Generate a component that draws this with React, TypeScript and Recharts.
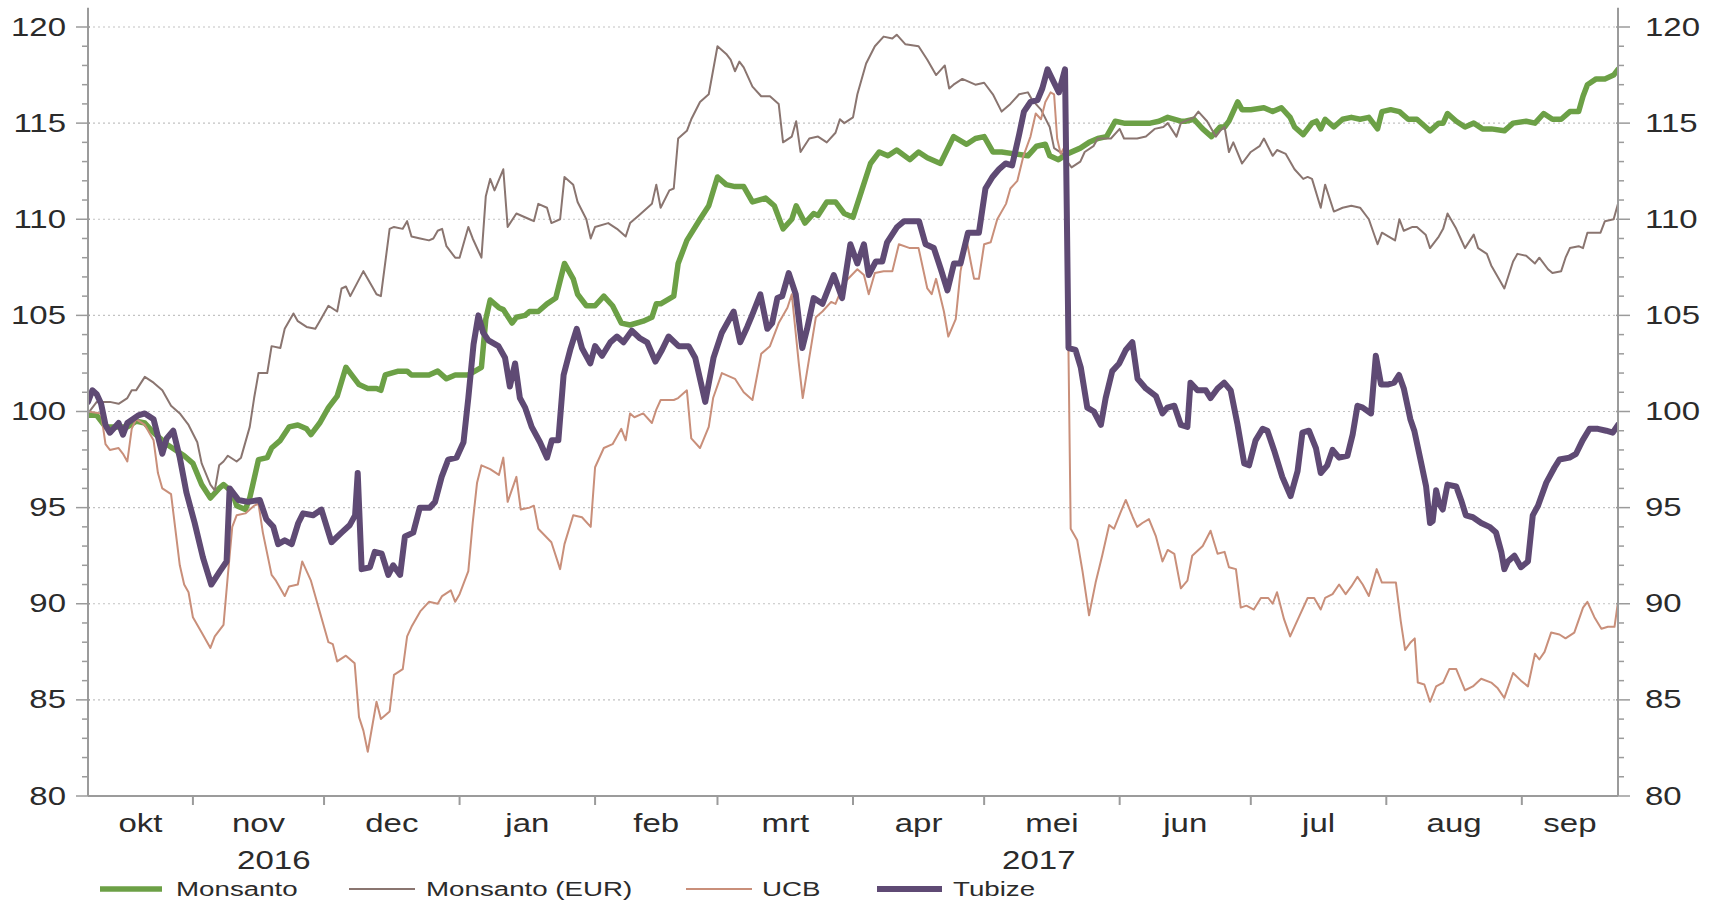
import React from "react";
import { LineChart, Line, XAxis, YAxis, ReferenceLine, Legend } from "recharts";

// [days since 1 Oct 2016, index value]
type Point = [number, number];

const monsanto: Point[] = [
  [7, 99.8], [9, 99.8], [11, 99.2], [14, 99.2], [16, 99.2], [18, 99.5], [20, 99.4], [22, 98.9], [25, 98.3],
  [27, 98.0], [29, 97.7], [31, 97.3], [33, 96.2], [35, 95.5], [37, 96.0], [38, 96.2], [40, 95.8], [41, 95.1],
  [43, 94.9], [44, 95.5], [46, 97.5], [48, 97.6], [49, 98.1], [51, 98.5], [53, 99.2], [55, 99.3], [57, 99.1],
  [58, 98.8], [60, 99.4], [62, 100.2], [64, 100.8], [66, 102.3], [67, 102.0], [69, 101.4], [71, 101.2],
  [73, 101.2], [74, 101.1], [75, 101.9], [78, 102.1], [80, 102.1], [81, 101.9], [83, 101.9], [85, 101.9],
  [87, 102.1], [89, 101.7], [91, 101.9], [94, 101.9], [97, 102.3], [98, 104.8], [99, 105.8], [101, 105.4],
  [102, 105.3], [104, 104.6], [105, 104.9], [107, 105.0], [108, 105.2], [110, 105.2], [112, 105.6],
  [114, 105.9], [116, 107.7], [118, 106.9], [119, 106.1], [121, 105.5], [123, 105.5], [125, 106.0],
  [127, 105.5], [129, 104.6], [131, 104.5], [134, 104.7], [136, 104.9], [137, 105.6], [138, 105.6],
  [141, 106.0], [142, 107.7], [144, 108.9], [147, 110.0], [149, 110.7], [151, 112.2], [153, 111.8],
  [155, 111.7], [157, 111.7], [159, 110.9], [162, 111.1], [164, 110.7], [166, 109.5], [168, 110.0],
  [169, 110.7], [171, 109.8], [173, 110.3], [174, 110.2], [176, 110.9], [178, 110.9], [180, 110.3],
  [182, 110.1], [184, 111.5], [186, 112.9], [188, 113.5], [190, 113.3], [192, 113.6], [195, 113.1],
  [197, 113.5], [199, 113.2], [202, 112.9], [205, 114.3], [208, 113.9], [210, 114.2], [212, 114.3],
  [214, 113.5], [216, 113.5], [219, 113.4], [222, 113.3], [224, 113.8], [226, 113.9], [227, 113.3],
  [229, 113.1], [231, 113.4], [234, 113.7], [236, 114.0], [238, 114.2], [240, 114.3], [242, 115.1],
  [244, 115.0], [247, 115.0], [250, 115.0], [252, 115.1], [254, 115.3], [257, 115.1], [258, 115.1],
  [260, 115.2], [262, 114.7], [264, 114.3], [266, 114.8], [267, 114.8], [268, 115.1], [270, 116.1],
  [271, 115.7], [273, 115.7], [276, 115.8], [278, 115.6], [280, 115.8], [282, 115.3], [283, 114.8],
  [285, 114.4], [287, 115.0], [288, 115.1], [289, 114.7], [290, 115.2], [292, 114.8], [294, 115.2],
  [296, 115.3], [298, 115.2], [300, 115.3], [302, 114.7], [303, 115.6], [305, 115.7], [307, 115.6],
  [309, 115.2], [311, 115.2], [313, 114.8], [314, 114.6], [316, 115.0], [317, 115.0], [318, 115.5],
  [320, 115.1], [322, 114.8], [324, 115.0], [326, 114.7], [328, 114.7], [331, 114.6], [333, 115.0],
  [336, 115.1], [338, 115.0], [340, 115.5], [342, 115.2], [344, 115.2], [346, 115.6], [348, 115.6],
  [349, 116.4], [350, 117.0], [352, 117.3], [354, 117.3], [356, 117.5], [357, 117.8],
];

const monsantoEur: Point[] = [
  [7, 99.9], [9, 100.5], [12, 100.5], [14, 100.4], [16, 100.7], [17, 101.1], [18, 101.1], [20, 101.8],
  [22, 101.5], [24, 101.1], [26, 100.3], [28, 99.9], [30, 99.3], [32, 98.4], [33, 97.3], [35, 96.2],
  [36, 95.9], [37, 97.2], [38, 97.4], [39, 97.7], [41, 97.4], [42, 97.6], [44, 99.2], [45, 100.7],
  [46, 102.0], [48, 102.0], [49, 103.4], [51, 103.3], [52, 104.3], [54, 105.1], [55, 104.7], [57, 104.4],
  [59, 104.3], [60, 104.7], [62, 105.5], [64, 105.2], [65, 106.4], [66, 106.5], [67, 106.0], [70, 107.3],
  [72, 106.5], [73, 106.1], [74, 106.0], [76, 109.5], [77, 109.6], [79, 109.5], [80, 109.9], [81, 109.1],
  [83, 109.0], [85, 108.9], [86, 109.0], [87, 109.4], [88, 109.5], [89, 108.6], [91, 108.0], [92, 108.0],
  [94, 109.6], [95, 109.0], [97, 108.0], [98, 111.2], [99, 112.1], [100, 111.5], [102, 112.6],
  [103, 109.6], [105, 110.3], [108, 110.0], [109, 109.9], [110, 110.8], [112, 110.6], [113, 109.8],
  [115, 110.0], [116, 112.2], [118, 111.8], [119, 110.9], [121, 110.0], [122, 109.0], [123, 109.6],
  [126, 109.8], [128, 109.5], [130, 109.1], [131, 109.8], [133, 110.2], [136, 110.8], [137, 111.8],
  [138, 110.6], [140, 111.5], [141, 111.6], [142, 114.2], [144, 114.6], [145, 115.2], [147, 116.1],
  [149, 116.5], [151, 119.0], [153, 118.6], [154, 118.3], [155, 117.7], [156, 118.2], [157, 117.9],
  [159, 116.9], [161, 116.4], [163, 116.4], [165, 116.0], [166, 114.0], [168, 114.3], [169, 115.1],
  [170, 113.5], [172, 114.2], [174, 114.3], [176, 114.0], [178, 114.5], [179, 115.2], [180, 115.0],
  [182, 115.3], [183, 116.5], [185, 118.1], [187, 119.0], [189, 119.5], [191, 119.4], [192, 119.6],
  [194, 119.1], [197, 119.0], [199, 118.3], [201, 117.5], [203, 118.0], [204, 116.8], [205, 117.0],
  [207, 117.3], [210, 117.0], [212, 117.1], [214, 116.5], [216, 115.6], [218, 116.0], [220, 116.5],
  [222, 116.6], [223, 116.2], [225, 115.7], [227, 114.8], [228, 113.7], [230, 113.4], [231, 113.0],
  [232, 112.7], [234, 113.0], [235, 113.5], [237, 113.8], [238, 114.2], [241, 114.2], [243, 114.7],
  [244, 114.2], [247, 114.2], [249, 114.3], [251, 114.7], [253, 114.8], [254, 115.0], [256, 114.3],
  [257, 115.0], [258, 115.1], [260, 115.3], [261, 115.6], [263, 115.1], [265, 114.3], [266, 114.6],
  [267, 114.8], [268, 113.5], [269, 114.0], [271, 112.9], [273, 113.5], [275, 113.8], [276, 114.2],
  [278, 113.3], [279, 113.6], [281, 113.4], [283, 112.6], [285, 112.1], [286, 112.2], [287, 112.1],
  [289, 110.6], [290, 111.8], [292, 110.4], [294, 110.6], [296, 110.7], [298, 110.6], [300, 110.0],
  [302, 108.7], [303, 109.3], [306, 108.9], [307, 110.0], [308, 109.4], [310, 109.6], [311, 109.6],
  [313, 109.2], [314, 108.5], [316, 109.1], [317, 109.5], [318, 110.3], [320, 109.5], [321, 109.0],
  [322, 108.5], [324, 109.2], [325, 108.5], [327, 108.2], [328, 107.6], [330, 106.8], [331, 106.4],
  [333, 107.8], [334, 108.2], [336, 108.1], [338, 107.7], [339, 108.0], [341, 107.4], [342, 107.2],
  [344, 107.3], [345, 108.0], [346, 108.5], [348, 108.6], [349, 108.5], [350, 109.3], [352, 109.3],
  [353, 109.3], [354, 109.9], [356, 110.0], [357, 110.8],
];

const ucb: Point[] = [
  [7, 100.0], [10, 99.9], [11, 98.3], [12, 98.0], [14, 98.1], [15, 97.8], [16, 97.4], [17, 99.1],
  [18, 99.6], [20, 99.3], [22, 98.5], [23, 96.8], [24, 96.0], [26, 95.7], [28, 92.0], [29, 91.0],
  [30, 90.6], [31, 89.3], [33, 88.5], [35, 87.7], [36, 88.3], [38, 88.9], [39, 91.5], [40, 94.0],
  [41, 94.6], [43, 94.7], [45, 95.1], [46, 95.2], [47, 93.7], [49, 91.5], [50, 91.2], [52, 90.4],
  [53, 90.9], [55, 91.0], [56, 92.2], [58, 91.2], [60, 89.6], [62, 88.0], [63, 87.9], [64, 87.0],
  [66, 87.3], [68, 86.9], [69, 84.1], [70, 83.4], [71, 82.3], [73, 84.9], [74, 84.0], [76, 84.4],
  [77, 86.3], [79, 86.6], [80, 88.3], [81, 88.8], [83, 89.6], [85, 90.1], [87, 90.0], [88, 90.4],
  [90, 90.7], [91, 90.1], [92, 90.5], [94, 91.7], [95, 94.2], [96, 96.3], [97, 97.2], [99, 97.0],
  [101, 96.7], [102, 97.6], [103, 95.3], [105, 96.6], [106, 94.9], [108, 95.0], [109, 95.1], [110, 93.9],
  [113, 93.2], [115, 91.8], [116, 93.1], [118, 94.6], [120, 94.5], [122, 94.0], [123, 97.1], [125, 98.1],
  [127, 98.3], [129, 99.1], [130, 98.5], [131, 99.9], [132, 99.7], [134, 99.9], [136, 99.4], [137, 100.1],
  [138, 100.6], [141, 100.6], [142, 100.7], [144, 101.1], [145, 98.6], [147, 98.1], [149, 99.2],
  [150, 100.7], [152, 102.0], [155, 101.7], [157, 101.0], [159, 100.6], [161, 103.0], [163, 103.4],
  [165, 104.6], [167, 105.4], [168, 106.1], [169.6, 102.5], [170.5, 100.7], [172, 102.8], [173.5, 104.9],
  [175, 105.2], [177, 105.7], [178, 105.6], [180, 106.7], [183, 107.4], [184.5, 107.1], [185.6, 106.1],
  [187, 107.2], [189, 107.3], [191, 107.3], [192.5, 108.7], [195, 108.5], [197, 108.5], [199, 106.4],
  [200, 106.1], [201, 106.9], [202.8, 105.2], [203.8, 103.9], [205.5, 104.8], [206.6, 107.3],
  [208, 108.9], [209, 107.7], [209.7, 106.9], [210.8, 106.9], [212, 108.7], [213.5, 108.8], [215, 110.0],
  [217, 110.8], [218, 111.6], [219.6, 112.0], [221, 113.3], [222.6, 114.3], [223.8, 115.5], [225, 115.2],
  [226, 116.1], [227.2, 116.6], [228, 116.5], [228.7, 114.2], [229.5, 113.4], [230.7, 113.9],
  [231.8, 93.9], [233.3, 93.3], [234.5, 91.7], [236, 89.4], [237.5, 91.1], [239, 92.5], [240.6, 94.1],
  [241.7, 93.9], [243.3, 94.8], [244.4, 95.4], [246, 94.5], [247, 94.0], [248.2, 94.2], [249.7, 94.4],
  [251.3, 93.5], [252.8, 92.2], [254, 92.8], [255.5, 92.6], [257, 90.8], [258.5, 91.2], [259.6, 92.5],
  [262, 93.0], [263.8, 93.8], [265.4, 92.6], [267, 92.7], [268, 91.9], [269.6, 91.8], [270.7, 89.8],
  [272, 89.9], [273.7, 89.7], [275.3, 90.3], [277, 90.3], [278, 90.0], [279, 90.6], [280.6, 89.2],
  [282, 88.3], [284, 89.3], [286, 90.3], [287.5, 90.3], [289, 89.7], [290, 90.3], [291.7, 90.5],
  [293.2, 91.0], [294.7, 90.5], [296, 90.9], [297.4, 91.4], [298.6, 91.0], [300, 90.4], [301.8, 91.8],
  [303, 91.1], [306.2, 91.1], [307.3, 89.1], [308.3, 87.6], [309.6, 88.0], [310.5, 88.2], [311.2, 85.9],
  [312.7, 85.8], [314, 84.9], [315.4, 85.7], [317, 85.9], [318.4, 86.6], [320, 86.6], [322, 85.5],
  [323.8, 85.7], [325.7, 86.1], [328, 85.9], [329.5, 85.6], [331, 85.1], [333, 86.4], [334.8, 86.0],
  [336.4, 85.7], [338, 87.4], [339, 87.1], [340.2, 87.5], [341.7, 88.5], [343.6, 88.4], [345, 88.2],
  [347, 88.5], [349, 89.8], [350, 90.1], [351.6, 89.3], [353.2, 88.7], [354.7, 88.8], [356.2, 88.8],
  [357, 90.1],
];

const tubize: Point[] = [
  [7, 100.5], [8, 101.1], [9, 100.9], [10, 100.4], [11, 99.3], [12, 98.9], [14, 99.4], [15, 98.8],
  [16, 99.4], [18.5, 99.8], [20, 99.9], [22, 99.6], [24, 97.8], [25, 98.6], [26.5, 99.0], [28, 97.6],
  [29.5, 95.8], [31.4, 94.2], [33.3, 92.4], [35.2, 91.0], [37.2, 91.7], [38.7, 92.2], [39.4, 96.0],
  [41.4, 95.4], [43.6, 95.3], [46.3, 95.4], [47.8, 94.4], [49.4, 94.0], [50.5, 93.1], [52, 93.3],
  [53.6, 93.1], [55.1, 94.2], [56.2, 94.7], [58.5, 94.6], [60.4, 94.9], [62.7, 93.2], [65, 93.7],
  [66.9, 94.1], [68.1, 94.6], [68.7, 96.8], [69.6, 91.8], [71.5, 91.9], [72.6, 92.7], [74.2, 92.6],
  [75.7, 91.5], [76.8, 92.0], [78.4, 91.5], [79.5, 93.5], [81.4, 93.7], [82.9, 95.0], [85.2, 95.0],
  [86.4, 95.3], [87.9, 96.6], [89.4, 97.5], [91.3, 97.6], [92.9, 98.4], [94, 100.7], [95.2, 103.5],
  [96.3, 105.0], [97.4, 104.1], [98.6, 103.7], [100.9, 103.4], [102.4, 102.8], [103.5, 101.3],
  [104.7, 102.5], [105.8, 100.7], [107, 100.2], [108.5, 99.2], [110.4, 98.4], [112, 97.6], [113.1, 98.5],
  [114.6, 98.5], [115.8, 101.9], [117.3, 103.2], [118.8, 104.3], [120, 103.3], [121.9, 102.5],
  [123, 103.4], [124.6, 102.9], [126.5, 103.6], [128, 103.9], [129.5, 103.6], [131.4, 104.2],
  [133.3, 103.8], [134.9, 103.6], [136.8, 102.6], [138.3, 103.2], [139.8, 103.9], [142.1, 103.4],
  [144.4, 103.4], [145.9, 102.8], [148.2, 100.5], [150.1, 102.8], [152, 104.1], [154.7, 105.2],
  [156.2, 103.6], [157.8, 104.4], [158.9, 105.0], [160.8, 106.1], [162.4, 104.3], [163.5, 104.6],
  [164.7, 105.9], [165.8, 106.0], [167.3, 107.2], [168.9, 106.1], [170.4, 103.3], [171.5, 104.3],
  [173, 105.9], [175, 105.6], [177.6, 107.1], [179.5, 105.9], [181.4, 108.7], [183, 107.7],
  [184.5, 108.7], [185.6, 107.1], [187.2, 107.8], [188.7, 107.8], [189.8, 108.8], [192.1, 109.6],
  [193.7, 109.9], [197.1, 109.9], [198.6, 108.7], [200.5, 108.5], [202.1, 107.4], [203.6, 106.3],
  [205.1, 107.7], [206.6, 107.7], [208.3, 109.3], [210.8, 109.3], [212.3, 111.6], [213.9, 112.2],
  [215.4, 112.6], [216.9, 112.9], [218.4, 112.8], [220, 114.4], [221.1, 115.6], [222.6, 116.1],
  [224.2, 116.2], [225.3, 116.8], [226.5, 117.8], [228, 117.1], [229.1, 116.6], [230.5, 117.8],
  [231.3, 103.3], [232.9, 103.2], [234.1, 102.3], [235.6, 100.2], [237.1, 100.0], [238.7, 99.3],
  [239.8, 100.7], [241.3, 102.1], [242.9, 102.5], [244.4, 103.2], [245.9, 103.6], [247.1, 101.7],
  [249, 101.2], [251.3, 100.8], [252.8, 99.9], [253.9, 100.2], [255.5, 100.3], [257, 99.3],
  [258.5, 99.2], [259.2, 101.5], [260.8, 101.1], [262.7, 101.1], [263.8, 100.7], [265.4, 101.2],
  [266.9, 101.5], [268.4, 101.1], [269.9, 99.4], [271.5, 97.3], [272.6, 97.2], [274.1, 98.5],
  [275.7, 99.1], [276.8, 99.0], [278.3, 98.0], [280.2, 96.6], [282.1, 95.6], [283.7, 96.9],
  [284.8, 98.9], [286.3, 99.0], [287.9, 98.1], [289, 96.8], [290.5, 97.2], [291.7, 98.0], [293.2, 97.6],
  [295.1, 97.7], [296.3, 98.8], [297.4, 100.3], [298.6, 100.2], [300.5, 99.9], [301.6, 102.9],
  [302.8, 101.4], [304.3, 101.4], [305.8, 101.5], [306.9, 101.9], [308, 101.2], [309.5, 99.6],
  [310.4, 99.0], [311.9, 97.4], [313.1, 96.1], [314, 94.2], [314.6, 94.3], [315.4, 95.9], [316.1, 95.2],
  [316.9, 94.9], [318, 96.2], [320, 96.1], [321.1, 95.4], [322.2, 94.6], [323.8, 94.5], [325.7, 94.2],
  [327.6, 94.0], [329.1, 93.7], [330.3, 92.7], [331, 91.8], [331.8, 92.2], [333.3, 92.5], [334.8, 91.9],
  [336.4, 92.2], [337.5, 94.6], [338.7, 95.1], [340.6, 96.3], [342.5, 97.1], [343.6, 97.5],
  [345.9, 97.6], [347.4, 97.8], [348.9, 98.5], [350.5, 99.1], [352.4, 99.1], [354.3, 99.0],
  [355.8, 98.9], [357, 99.3],
];

const monthLabels = ["okt", "nov", "dec", "jan", "feb", "mrt", "apr", "mei", "jun", "jul", "aug", "sep"];
const yearLabels = ["2016", "2017"];
const firstDay = 7;
const lastDay = 357;
const yMajor = [80, 85, 90, 95, 100, 105, 110, 115, 120];

const FONT = '"Liberation Sans", Arial, sans-serif';
const TEXT = "#2b2b2b";
const AXIS = "#9b9b9b";
const GRID = "#c2c2c2";
const STRETCH = 1.32;

const series = [
  { name: "Monsanto", points: monsanto, color: "#6ca046", width: 5.5, axis: "left" },
  { name: "Monsanto (EUR)", points: monsantoEur, color: "#8a7570", width: 2, axis: "left" },
  { name: "UCB", points: ucb, color: "#c98f7a", width: 2, axis: "right" },
  { name: "Tubize", points: tubize, color: "#5f4a74", width: 6, axis: "right" },
];

// month boundaries in days since 1 Oct 2016
const DAY_MS = 86400000;
const origin = Date.UTC(2016, 9, 1);
const monthStarts = monthLabels.map((_, i) => (Date.UTC(2016, 9 + i, 1) - origin) / DAY_MS);
const periodEnd = (Date.UTC(2017, 9, 1) - origin) / DAY_MS;

type TickInfo = { kind: "start" | "month" | "year"; label?: string };
const xTickInfo = new Map<number, TickInfo>();
monthStarts.forEach((s, i) => {
  if (s > firstDay && s < lastDay) xTickInfo.set(s, { kind: "start" });
  const a = Math.max(s, firstDay);
  const b = Math.min(i + 1 < monthStarts.length ? monthStarts[i + 1] : periodEnd, lastDay);
  xTickInfo.set((a + b) / 2, { kind: "month", label: monthLabels[i] });
});
const yearStart = monthStarts[3];
xTickInfo.set((firstDay + yearStart) / 2, { kind: "year", label: yearLabels[0] });
xTickInfo.set((yearStart + lastDay) / 2, { kind: "year", label: yearLabels[1] });
const xTicks = [...xTickInfo.keys()].sort((a, b) => a - b);

const yTicks: number[] = [];
for (let v = 80; v <= 120; v++) yTicks.push(v);

function StretchText({ x, y, anchor, size, children }: any) {
  return (
    <text
      transform={`translate(${x},${y}) scale(${STRETCH},1)`}
      textAnchor={anchor}
      dominantBaseline="central"
      fontSize={size}
      fontFamily={FONT}
      fill={TEXT}
    >
      {children}
    </text>
  );
}

function XTick({ x, y, payload }: any) {
  const info = xTickInfo.get(payload.value);
  if (!info) return <g />;
  if (info.kind === "start") {
    return <line x1={x} x2={x} y1={y} y2={y + 9} stroke={AXIS} strokeWidth={2} />;
  }
  const cy = info.kind === "month" ? y + 27 : y + 64;
  return (
    <StretchText x={x} y={cy} anchor="middle" size={25}>
      {info.label}
    </StretchText>
  );
}

function YTick({ x, y, payload, side }: any) {
  const v = payload.value;
  const major = v % 5 === 0;
  const dir = side === "left" ? -1 : 1;
  return (
    <g>
      <line
        x1={x - dir * (major ? 2 : 0)}
        x2={x + dir * (major ? 12 : 6)}
        y1={y}
        y2={y}
        stroke={AXIS}
        strokeWidth={1.5}
      />
      {major && (
        <StretchText x={x + dir * (side === "left" ? 22 : 27)} y={y} anchor={side === "left" ? "end" : "start"} size={25}>
          {v}
        </StretchText>
      )}
    </g>
  );
}

const legendLayout = [
  { x1: 100, x2: 162, tx: 176 },
  { x1: 349, x2: 415, tx: 426 },
  { x1: 686, x2: 752, tx: 762 },
  { x1: 877, x2: 942, tx: 953 },
];

function LegendBox() {
  return (
    <svg width={1717} height={34}>
      {series.map((s, i) => (
        <g key={s.name}>
          <line x1={legendLayout[i].x1} x2={legendLayout[i].x2} y1={17} y2={17} stroke={s.color} strokeWidth={s.width} />
          <StretchText x={legendLayout[i].tx} y={17} anchor="start" size={21}>
            {s.name}
          </StretchText>
        </g>
      ))}
    </svg>
  );
}

export default function App() {
  return (
    <div style={{ position: "absolute", left: 0, top: 0, width: 1717, height: 904, background: "#fff" }}>
      <LineChart width={1717} height={904} margin={{ top: 27, right: 0, bottom: 0, left: 0 }}>
        <XAxis
          dataKey="day"
          type="number"
          domain={[firstDay, lastDay]}
          allowDataOverflow
          ticks={xTicks}
          interval={0}
          tickSize={0}
          tickMargin={0}
          tickLine={false}
          tick={XTick}
          height={108}
          axisLine={{ stroke: AXIS, strokeWidth: 2 }}
        />
        <YAxis
          yAxisId="left"
          orientation="left"
          width={88}
          type="number"
          domain={[80, 120]}
          allowDataOverflow
          ticks={yTicks}
          interval={0}
          tickSize={0}
          tickMargin={0}
          tickLine={false}
          tick={(p: any) => <YTick {...p} side="left" />}
          axisLine={{ stroke: AXIS, strokeWidth: 2 }}
        />
        <YAxis
          yAxisId="right"
          orientation="right"
          width={99}
          type="number"
          domain={[80, 120]}
          allowDataOverflow
          ticks={yTicks}
          interval={0}
          tickSize={0}
          tickMargin={0}
          tickLine={false}
          tick={(p: any) => <YTick {...p} side="right" />}
          axisLine={{ stroke: AXIS, strokeWidth: 2 }}
        />
        {yMajor
          .filter((v) => v > 80)
          .map((v) => (
            <ReferenceLine key={v} yAxisId="left" y={v} stroke={GRID} strokeWidth={1.2} strokeDasharray="2 3" />
          ))}
        {/* axis lines run a little above the 120 line */}
        {[firstDay, lastDay].map((d) => (
          <ReferenceLine
            key={"ext" + d}
            yAxisId="left"
            segment={[{ x: d, y: 120 }, { x: d, y: 121 }]}
            stroke={AXIS}
            strokeWidth={2}
            ifOverflow="visible"
          />
        ))}
        {series.map((s) => (
          <Line
            key={s.name}
            yAxisId={s.axis}
            data={s.points.map(([day, value]) => ({ day, value }))}
            dataKey="value"
            name={s.name}
            stroke={s.color}
            strokeWidth={s.width}
            strokeLinejoin="round"
            strokeLinecap="round"
            dot={false}
            activeDot={false}
            isAnimationActive={false}
          />
        ))}
        <Legend
          verticalAlign="middle"
          align="center"
          layout="horizontal"
          wrapperStyle={{ position: "absolute", left: 0, top: 872, width: 1717, height: 34 }}
          content={() => <LegendBox />}
        />
      </LineChart>
    </div>
  );
}
